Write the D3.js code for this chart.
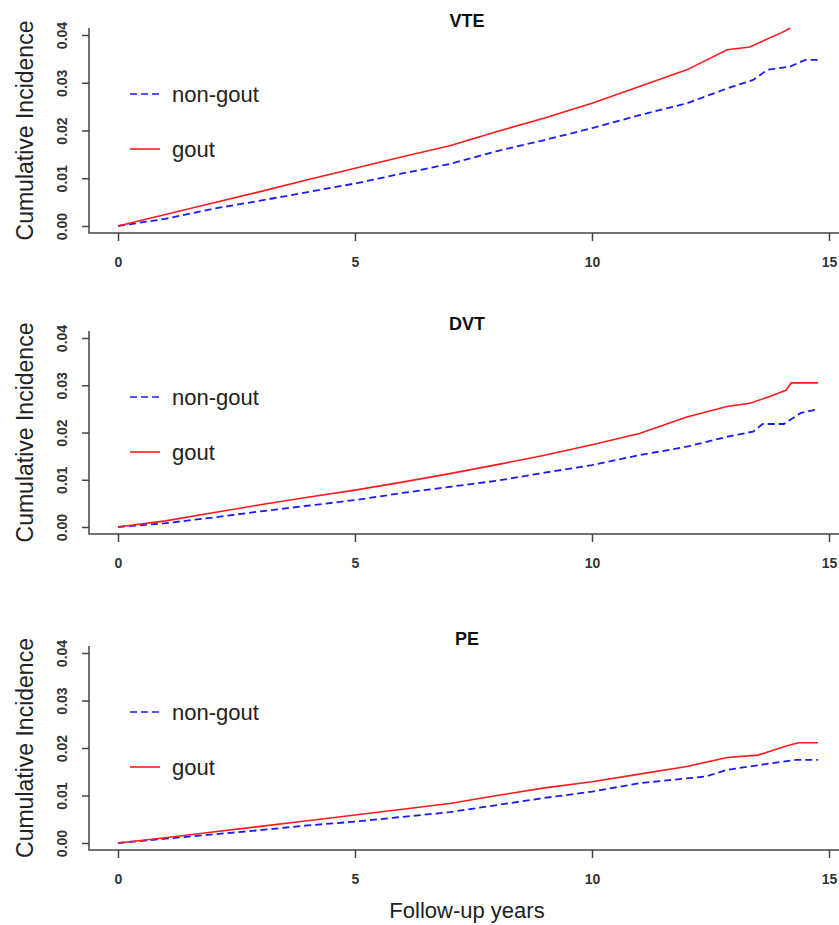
<!DOCTYPE html>
<html>
<head>
<meta charset="utf-8" />
<title>Cumulative incidence - gout vs non-gout</title>
<script src="https://cdn.jsdelivr.net/npm/d3@7/dist/d3.min.js"></script>
<style>
	body { margin: 0; background: #fff; }
	svg { display: block; font-family: "Liberation Sans", Arial, sans-serif; }
</style>
</head>
<body>
<svg id="chart" width="839" height="925"></svg>
<script>
// panel titles
const panels = ['VTE', 'DVT', 'PE'];
const seriesNames = ['non-gout', 'gout'];
const xTicks = [0, 5, 10, 15];
const yTicks = [0, 0.01, 0.02, 0.03, 0.04];

// values: [year, cumulative incidence]
const vteGout = [[0,0],[1,0.0024],[2,0.0048],[3,0.0072],[4,0.0097],[5,0.0121],[6,0.0145],[7,0.0168],[8,0.0198],[9,0.0226],[10,0.0257],[11,0.0292],[12,0.0327],[12.85,0.0369],[13.33,0.0375],[14,0.0405],[14.18,0.0414]];
const vteNonGout = [[0,0],[1,0.0015],[2,0.0036],[3,0.0053],[4,0.0071],[5,0.0089],[6,0.0110],[7,0.0130],[8,0.0157],[9,0.0180],[10,0.0205],[11,0.0232],[12,0.0257],[12.85,0.0288],[13.4,0.0306],[13.7,0.0327],[14.18,0.0334],[14.5,0.0348],[14.77,0.0348]];

const dvtGout = [[0,0],[1,0.0013],[2,0.0030],[3,0.0047],[4,0.0063],[5,0.0078],[6,0.0095],[7,0.0113],[8,0.0132],[9,0.0152],[10,0.0174],[11,0.0198],[12,0.0233],[12.85,0.0255],[13.33,0.0262],[13.75,0.0276],[14.1,0.0290],[14.2,0.0305],[14.77,0.0305]];
const dvtNonGout = [[0,0],[1,0.0008],[2,0.0020],[3,0.0033],[4,0.0045],[5,0.0057],[6,0.0072],[7,0.0085],[8,0.0098],[9,0.0115],[10,0.0131],[11,0.0152],[12,0.0170],[12.85,0.0191],[13.4,0.0202],[13.6,0.0218],[14.05,0.0218],[14.4,0.0241],[14.7,0.0248]];

const peGout = [[0,0],[1,0.0011],[2,0.0023],[3,0.0035],[4,0.0047],[5,0.0059],[6,0.0071],[7,0.0083],[8,0.0100],[9,0.0116],[10,0.0129],[11,0.0145],[12,0.0161],[12.85,0.0180],[13.5,0.0185],[14.1,0.0204],[14.35,0.0211],[14.77,0.0211]];
const peNonGout = [[0,0],[1,0.0009],[2,0.0018],[3,0.0027],[4,0.0037],[5,0.0045],[6,0.0055],[7,0.0065],[8,0.0080],[9,0.0095],[10,0.0108],[11,0.0126],[12.4,0.0140],[12.85,0.0154],[13.8,0.0168],[14.3,0.0175],[14.77,0.0175]];

const nonGoutData = [vteNonGout, dvtNonGout, peNonGout];
const goutData = [vteGout, dvtGout, peGout];

// layout of each panel (y pixel of 0.04 and of 0.00)
const panelTop = [35, 338, 653];
const panelBottom = [226, 527, 843];
const axisLeftX = 89;

const svg = d3.select('#chart');
const xScale = d3.scaleLinear().domain([0, 15]).range([118, 829]);
const line = d3.line().x(d => xScale(d[0]));

panels.forEach((name, i) => {
	const yScale = d3.scaleLinear().domain([0, 0.04]).range([panelBottom[i], panelTop[i]]);
	const g = svg.append('g').attr('class', 'panel');
	const boxTop = panelTop[i] - 7, boxBottom = panelBottom[i] + 7;

	// L shaped frame
	g.append('path')
		.attr('d', 'M' + axisLeftX + ',' + boxTop + 'V' + boxBottom + 'H845')
		.style('fill', 'none').style('stroke', '#444').style('stroke-width', '1.5px');

	// y axis, labels turned like R does
	const yAxis = d3.axisLeft(yScale).tickValues(yTicks).tickFormat(d3.format('.2f')).tickSize(7).tickSizeOuter(0);
	const ya = g.append('g').attr('transform', 'translate(' + axisLeftX + ',0)').call(yAxis);
	ya.select('.domain').remove();
	ya.selectAll('line').style('stroke', '#444').style('stroke-width', '1.5px');
	ya.selectAll('text')
		.attr('x', null).attr('dy', null)
		.attr('text-anchor', 'middle')
		.attr('transform', 'translate(-22,0) rotate(-90)')
		.style('font-size', '14px').style('font-weight', 'bold').style('fill', '#333')
		.style('font-family', '"Liberation Sans", Arial, sans-serif');

	// x axis
	const xAxis = d3.axisBottom(xScale).tickValues(xTicks).tickFormat(d3.format('d')).tickSize(8).tickSizeOuter(0);
	const xa = g.append('g').attr('transform', 'translate(0,' + boxBottom + ')').call(xAxis);
	xa.select('.domain').remove();
	xa.selectAll('line').style('stroke', '#444').style('stroke-width', '1.5px');
	xa.selectAll('text')
		.attr('y', 34).attr('dy', null)
		.style('font-size', '14px').style('font-weight', 'bold').style('fill', '#333')
		.style('font-family', '"Liberation Sans", Arial, sans-serif');

	// curves
	line.y(d => yScale(d[1]));
	g.append('path').datum(nonGoutData[i])
		.attr('d', line)
		.style('fill', 'none').style('stroke', '#1a1aff').style('stroke-width', '1.8px')
		.style('stroke-dasharray', '7,4');
	g.append('path').datum(goutData[i])
		.attr('d', line)
		.style('fill', 'none').style('stroke', '#ff1a1a').style('stroke-width', '1.6px');

	// title
	g.append('text')
		.attr('x', 467).attr('y', panelTop[i] - 8)
		.attr('text-anchor', 'middle')
		.style('font-size', '18px').style('font-weight', 'bold').style('fill', '#111')
		.text(name);

	// y label
	g.append('text')
		.attr('transform', 'translate(33,' + ((boxTop + boxBottom) / 2) + ') rotate(-90)')
		.attr('text-anchor', 'middle')
		.style('font-size', '23px').style('fill', '#222')
		.text('Cumulative Incidence');

	// legend
	const legY = [panelTop[i] + 59, panelTop[i] + 114];
	seriesNames.forEach((s, k) => {
		g.append('line')
			.attr('x1', 130).attr('x2', 160).attr('y1', legY[k]).attr('y2', legY[k])
			.style('stroke', k === 0 ? '#1a1aff' : '#ff1a1a')
			.style('stroke-width', '1.6px')
			.style('stroke-dasharray', k === 0 ? '7,4' : null);
		g.append('text')
			.attr('x', 172).attr('y', legY[k]).attr('dy', '0.35em')
			.style('font-size', '22px').style('fill', '#222')
			.text(s);
	});
});

svg.append('text')
	.attr('x', 467).attr('y', 918)
	.attr('text-anchor', 'middle')
	.style('font-size', '22px').style('fill', '#222')
	.text('Follow-up years');
</script>
</body>
</html>
